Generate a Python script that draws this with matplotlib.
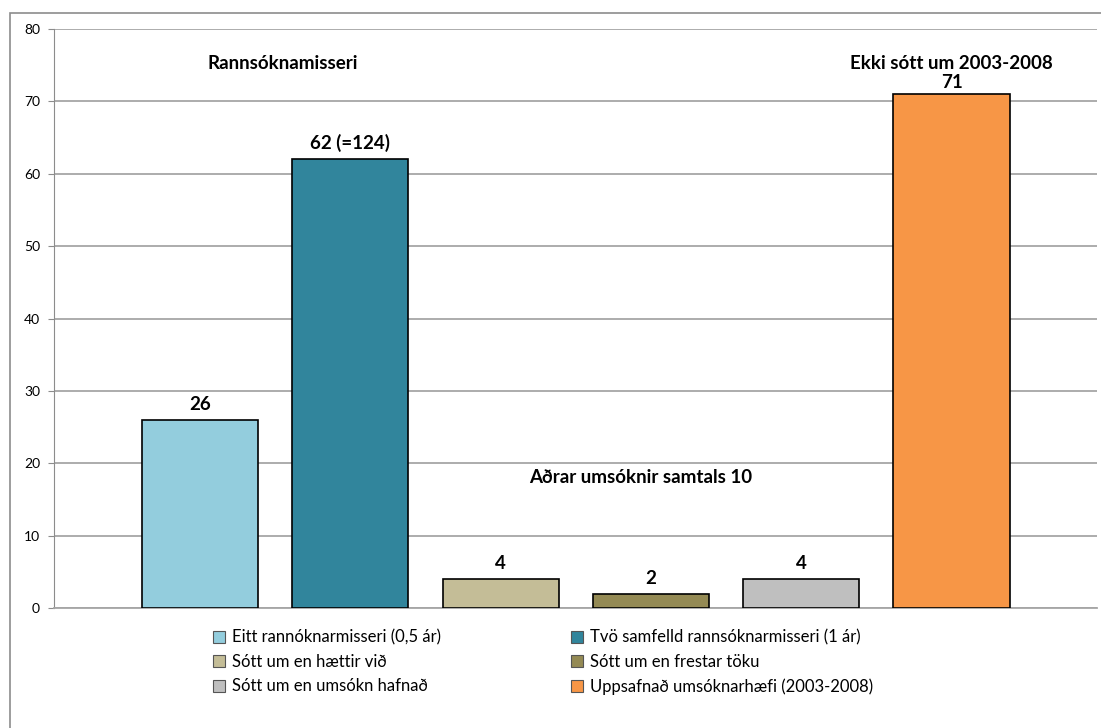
import matplotlib
matplotlib.use('Agg')
from matplotlib import pyplot as plt
from matplotlib.patches import Patch, Rectangle

series: list[str] = [
    'Eitt rannóknarmisseri (0,5 ár)',
    'Tvö samfelld rannsóknarmisseri (1 ár)',
    'Sótt um en hættir við',
    'Sótt um en frestar töku',
    'Sótt um en umsókn hafnað',
    'Uppsafnað umsóknarhæfi (2003-2008)',
]
values: list[int] = [26, 62, 4, 2, 4, 71]
value_labels: list[str] = ['26', '62 (=124)', '4', '2', '4', '71']
colors: list[str] = ['#93CDDD', '#31859C', '#C4BD97', '#948A54', '#BFBFBF', '#F79646']
yticks: list[int] = [0, 10, 20, 30, 40, 50, 60, 70, 80]

plt.rcParams['font.family'] = ['Lato', 'DejaVu Sans']

fig = plt.figure(figsize=(11.01, 7.28), dpi=100)
ax = fig.add_axes([54 / 1101, 1 - 608 / 728, (1097 - 54) / 1101, (608 - 29) / 728])

# outer chart border
fig.patches.append(Rectangle((10 / 1101, -0.01), 1.0, 1 - 13 / 728 + 0.01,
                             transform=fig.transFigure, fill=False,
                             edgecolor='#8c8c8c', linewidth=1.2))

x = list(range(len(values)))
bars = ax.bar(x, values, width=0.772, color=colors, edgecolor='black', linewidth=1.2, zorder=3)

for bar, lab in zip(bars, value_labels):
    # the top label sits a little closer to its bar, as in the source chart
    off = 2 if bar.get_height() > 65 else 5
    ax.annotate(lab, (bar.get_x() + bar.get_width() / 2, bar.get_height()),
                xytext=(0, off), textcoords='offset points', ha='center', va='bottom',
                fontsize=13.5, fontweight='bold')

ax.text(0.55, 75.3, 'Rannsóknamisseri', ha='center', va='center', fontsize=13.5, fontweight='bold')
ax.text(5, 75.3, 'Ekki sótt um 2003-2008', ha='center', va='center', fontsize=13.5, fontweight='bold')
ax.text(2.93, 18.1, 'Aðrar umsóknir samtals 10', ha='center', va='center', fontsize=13.5, fontweight='bold')

ax.set_xlim(-0.971, 5.968)
ax.set_ylim(0, 80)
ax.set_yticks(yticks)
ax.set_xticks([])
ax.yaxis.grid(True, color='#a6a6a6', linewidth=1.3, zorder=0)
ax.set_axisbelow(True)
for side in ['top', 'right']:
    ax.spines[side].set_visible(False)
ax.spines['left'].set_color('#8c8c8c')
ax.spines['bottom'].set_color('#a6a6a6')
ax.spines['bottom'].set_linewidth(1.3)
ax.tick_params(axis='y', length=4, color='#8c8c8c', labelsize=10, pad=6)

handles = [Patch(facecolor=c, edgecolor='#555555', linewidth=0.8) for c in colors]
order = [0, 2, 4, 1, 3, 5]
fig.legend([handles[i] for i in order], [series[i] for i in order],
           loc='upper left', bbox_to_anchor=(206 / 1101, 1 - 623 / 728), ncol=2,
           frameon=False, fontsize=12, handlelength=0.75, handleheight=0.75,
           handletextpad=0.4, columnspacing=7.8, labelspacing=0.5, borderaxespad=0)

fig.savefig('out.png', dpi=100)
